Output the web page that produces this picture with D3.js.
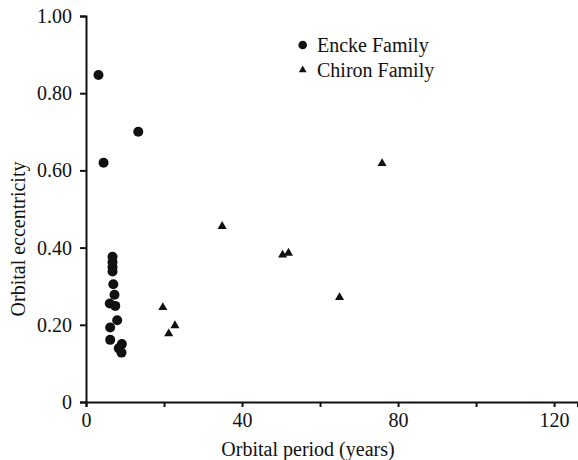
<!DOCTYPE html>
<html>
<head>
<meta charset="utf-8">
<script src="https://cdn.jsdelivr.net/npm/d3@7"></script>
<style>
  body { margin: 0; background: #fff; }
</style>
</head>
<body>
<svg id="chart"></svg>
<script>
// Encke family: orbital period (years), eccentricity
const enckePeriod = [3.2, 4.5, 13.4, 6.8, 6.8, 6.8, 6.8, 7.0, 7.3, 6.1, 7.5, 8.0, 6.2, 6.2, 9.2, 8.4, 9.1];
const enckeEcc    = [0.847, 0.62, 0.70, 0.376, 0.362, 0.349, 0.338, 0.305, 0.278, 0.255, 0.249, 0.212, 0.193, 0.161, 0.150, 0.139, 0.128];

// Chiron family
const chironPeriod = [75.9, 34.9, 50.4, 51.9, 65.0, 19.7, 22.8, 21.2];
const chironEcc    = [0.618, 0.455, 0.381, 0.386, 0.271, 0.245, 0.198, 0.177];

const xTicks = [0, 20, 40, 60, 80, 100, 120];
const xLabels = [0, 40, 80, 120];
const yTicks = [0, 0.2, 0.4, 0.6, 0.8, 1.0];

const width = 578;
const height = 460;
const serif = '"Liberation Serif", "Times New Roman", Times, "DejaVu Serif", serif';

const svg = d3.select('#chart')
    .attr('width', width)
    .attr('height', height)
    .attr('font-family', serif);

const x = d3.scaleLinear().domain([0, 126]).range([86, 577.5]);
const y = d3.scaleLinear().domain([0, 1]).range([402, 16]);

svg.append('g')
    .attr('transform', 'translate(0,' + y(0) + ')')
    .call(d3.axisBottom(x)
      .tickValues(xTicks)
      .tickSizeOuter(0)
      .tickSize(5)
      .tickPadding(6)
      .tickFormat(d => xLabels.includes(d) ? d : ''));

svg.append('g')
    .attr('transform', 'translate(' + x(0) + ',0)')
    .call(d3.axisLeft(y)
      .tickValues(yTicks)
      .tickSizeOuter(0)
      .tickSize(6)
      .tickPadding(8)
      .tickFormat(d => d === 0 ? '0' : d3.format('.2f')(d)));

svg.selectAll('g').attr('font-family', serif).attr('font-size', 20);

svg.selectAll('.domain, .tick line')
    .attr('stroke', '#111')
    .attr('stroke-width', 2);

svg.selectAll('.tick text')
    .attr('fill', '#111');

// axis titles
svg.append('text')
    .attr('x', 308)
    .attr('y', 456)
    .attr('text-anchor', 'middle')
    .attr('font-size', 20)
    .attr('fill', '#111')
    .text('Orbital period (years)');

svg.append('text')
    .attr('transform', 'translate(25,239) rotate(-90)')
    .attr('text-anchor', 'middle')
    .attr('font-size', 20)
    .attr('fill', '#111')
    .text('Orbital eccentricity');

// points
const encke = enckePeriod.map((p, i) => ({ p: p, e: enckeEcc[i] }));
const chiron = chironPeriod.map((p, i) => ({ p: p, e: chironEcc[i] }));

svg.selectAll('.encke')
  .data(encke)
  .enter().append('circle')
    .attr('class', 'encke')
    .attr('cx', d => x(d.p))
    .attr('cy', d => y(d.e))
    .attr('r', 5)
    .attr('fill', '#111');

const tri = d3.symbol().type(d3.symbolTriangle).size(36);

svg.selectAll('.chiron')
  .data(chiron)
  .enter().append('path')
    .attr('class', 'chiron')
    .attr('transform', d => 'translate(' + x(d.p) + ',' + y(d.e) + ')')
    .attr('d', tri)
    .attr('fill', '#111');

// legend
const legend = svg.append('g').attr('font-size', 20);
legend.append('circle')
    .attr('cx', 302.7)
    .attr('cy', 45)
    .attr('r', 4.3)
    .attr('fill', '#111');
legend.append('text')
    .attr('x', 317)
    .attr('y', 52)
    .attr('fill', '#111')
    .text('Encke Family');
legend.append('path')
    .attr('transform', 'translate(302.7,70)')
    .attr('d', d3.symbol().type(d3.symbolTriangle).size(26))
    .attr('fill', '#111');
legend.append('text')
    .attr('x', 317)
    .attr('y', 77)
    .attr('fill', '#111')
    .text('Chiron Family');
</script>
</body>
</html>
